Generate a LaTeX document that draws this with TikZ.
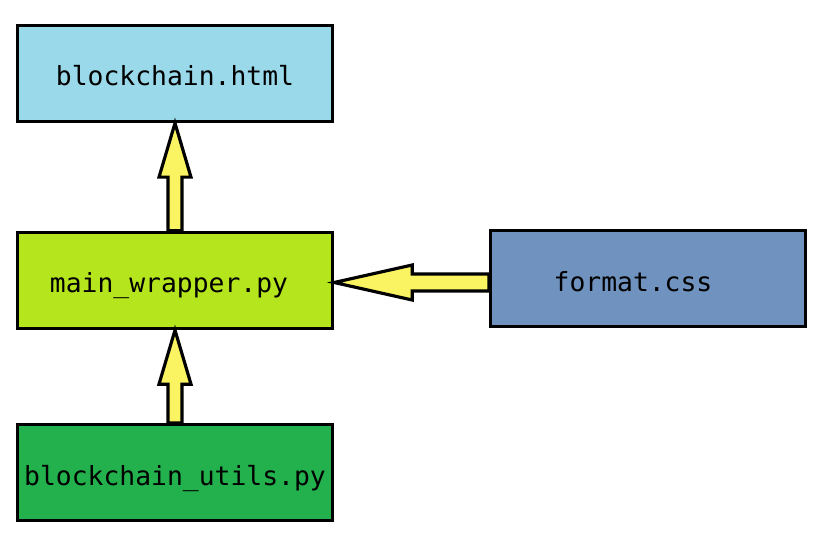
\documentclass[tikz,border=0pt]{standalone}
\usepackage{fontspec}
\setmonofont{DejaVu Sans Mono}
\usetikzlibrary{positioning, calc}
\definecolor{htmlblue}{RGB}{153, 217, 234}
\definecolor{wraplime}{RGB}{181, 230, 29}
\definecolor{utilgreen}{RGB}{34, 177, 76}
\definecolor{cssslate}{RGB}{112, 146, 190}
\definecolor{arrowyellow}{RGB}{250, 244, 98}

\begin{document}
\begin{tikzpicture}[
  filebox/.style={draw=black, line width=1.9pt, minimum width=6.3cm, minimum height=1.92cm,
    inner sep=0pt, text height=0.6cm, text depth=0.1cm, font=\ttfamily\fontsize{15}{18}\selectfont},
  fatarrow/.style={draw=black, line width=1.8pt, fill=arrowyellow, line join=miter}
]
  \useasboundingbox (0, 0) rectangle (16.38, 10.68);

  % Files
  \node[filebox, fill=htmlblue] (html) at (3.5, 9.21) {blockchain.html};
  \node[filebox, fill=wraplime] (wrapper) at (3.5, 5.07) {main\_wrapper.py\kern0.24cm};
  \node[filebox, fill=utilgreen] (utils) at (3.5, 1.23) {blockchain\_utils.py};
  \node[filebox, fill=cssslate] (css) at (12.96, 5.11) {format.css\kern0.6cm};

  % Wrapper to html
  \draw[fatarrow] ($(wrapper.north)+(-0.14, 0)$) -- ($(html.south)+(-0.14, -1.08)$)
    -- ($(html.south)+(-0.32, -1.08)$) -- (html.south) -- ($(html.south)+(0.32, -1.08)$)
    -- ($(html.south)+(0.14, -1.08)$) -- ($(wrapper.north)+(0.14, 0)$) -- cycle;

  % Utils to wrapper
  \draw[fatarrow] ($(utils.north)+(-0.14, 0)$) -- ($(wrapper.south)+(-0.14, -1.08)$)
    -- ($(wrapper.south)+(-0.32, -1.08)$) -- (wrapper.south) -- ($(wrapper.south)+(0.32, -1.08)$)
    -- ($(wrapper.south)+(0.14, -1.08)$) -- ($(utils.north)+(0.14, 0)$) -- cycle;

  % Css to wrapper
  \coordinate (tip) at ($(wrapper.east)+(0, -0.04)$);
  \draw[fatarrow] (tip -| css.west) ++(0, 0.17) -- ($(tip)+(1.56, 0.17)$)
    -- ($(tip)+(1.56, 0.35)$) -- (tip) -- ($(tip)+(1.56, -0.35)$)
    -- ($(tip)+(1.56, -0.17)$) -- ($(tip -| css.west)+(0, -0.17)$) -- cycle;
\end{tikzpicture}
\end{document}
